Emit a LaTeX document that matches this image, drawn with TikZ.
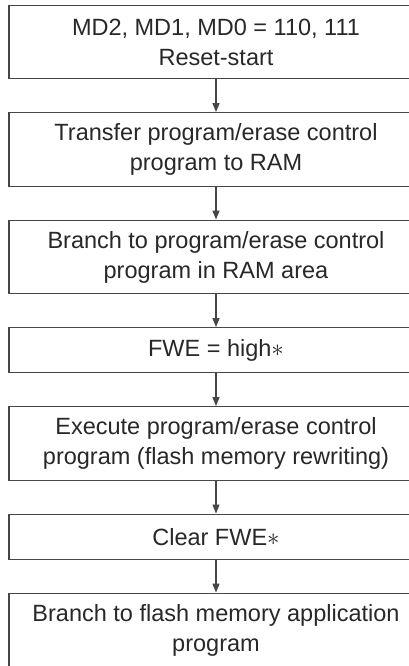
\documentclass[tikz,border=0pt]{standalone}
\usepackage{fontspec}
\setmainfont{Liberation Sans}
\usepackage{xcolor}
\usepackage{tikz}
\usetikzlibrary{arrows.meta, positioning}
\definecolor{mydark}{RGB}{40,40,40}
\definecolor{myframe}{RGB}{70,70,70}
\newcommand{\fnmark}{{\fontsize{30}{30}\selectfont$\ast$}}
\tikzset{
  stepbox/.style={rectangle, draw=myframe, fill=white,
    minimum width=414pt, minimum height=73.5pt, align=center,
    font=\fontsize{23.5}{30}\selectfont, text=mydark, line width=1.4pt,
    inner sep=0pt},
  shortbox/.style={stepbox, minimum height=45pt},
  arrow/.style={-{Triangle[length=9pt, width=7pt]}, line width=1.2pt, color=myframe}
}
\begin{document}
\begin{tikzpicture}[x=1pt, y=-1pt, node distance=32.6pt]
  \useasboundingbox (0,0) rectangle (409,666);

  % Steps
  \node[stepbox] (reset) at (216,42) {MD2, MD1, MD0 = 110, 111\\Reset-start};
  \node[stepbox, below=of reset] (transfer) {Transfer program/erase control\\program to RAM};
  \node[stepbox, below=of transfer] (branch) {Branch to program/erase control\\program in RAM area};
  \node[shortbox, below=of branch] (fwehigh) {FWE = high\fnmark};
  \node[stepbox, below=of fwehigh] (execute) {Execute program/erase control\\program (flash memory rewriting)};
  \node[shortbox, below=of execute] (clearfwe) {Clear FWE\fnmark};
  \node[stepbox, below=of clearfwe] (app) {Branch to flash memory application\\program};

  % Arrows
  \draw[arrow] (reset) -- (transfer);
  \draw[arrow] (transfer) -- (branch);
  \draw[arrow] (branch) -- (fwehigh);
  \draw[arrow] (fwehigh) -- (execute);
  \draw[arrow] (execute) -- (clearfwe);
  \draw[arrow] (clearfwe) -- (app);
\end{tikzpicture}
\end{document}
